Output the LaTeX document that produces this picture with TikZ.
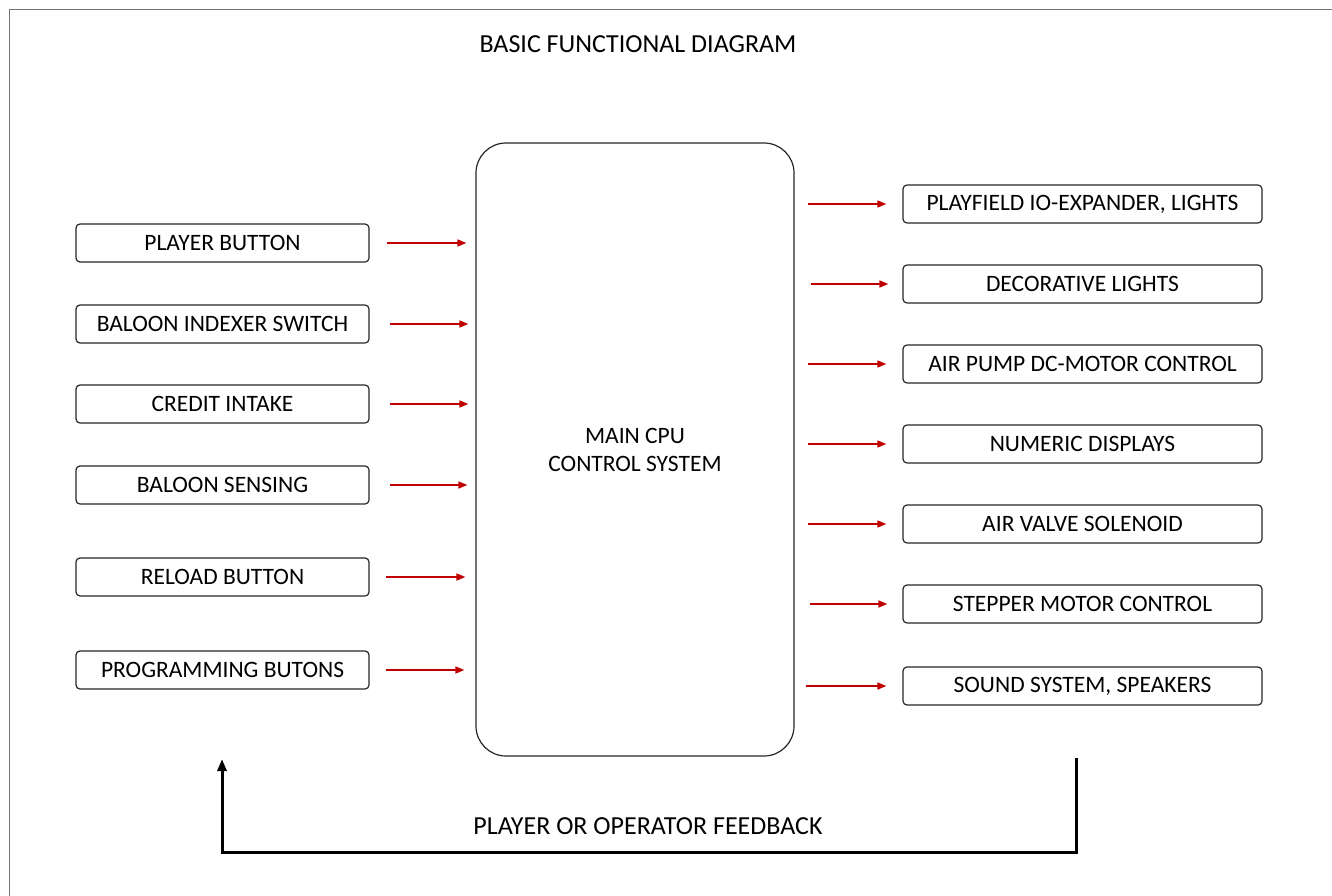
\documentclass[tikz,border=0pt]{standalone}
\usepackage{fontspec}
\setmainfont{Carlito}
\usetikzlibrary{arrows.meta, positioning}

\begin{document}
\begin{tikzpicture}[x=1pt, y=-1pt, font=\fontsize{23.5}{28}\selectfont,
    block/.style = {draw=black!85, line width=1.2pt, rounded corners=4pt,
      minimum height=38pt, inner sep=0pt},
    inbox/.style = {block, minimum width=293pt},
    outbox/.style = {block, minimum width=359pt},
    caption/.style = {font=\fontsize{26}{31}\selectfont},
    sig/.style = {draw={rgb,255:red,192;green,0;blue,0}, line width=1.6pt,
      -{Triangle[length=9pt, width=7pt]}},
    feedback/.style = {line width=3pt, -{Triangle[length=12pt, width=9pt]}}]
    \useasboundingbox (0,0) rectangle (1332,896);
    % frame (top and left only)
    \draw[black!55, line width=1.5pt] (1332,9.5) -- (9.5,9.5) -- (9.5,896);
    \node[caption] (title) at (638,44) {BASIC FUNCTIONAL DIAGRAM};
    % cpu
    \node[draw=black!85, line width=1.2pt, rounded corners=30pt, minimum width=318pt,
      minimum height=613pt, align=center] (cpu) at (635,449.5)
      {MAIN CPU\\CONTROL SYSTEM};
    % inputs
    \node[inbox] (player)   at (222.5,243) {PLAYER BUTTON};
    \node[inbox] (indexer)  at (222.5,324) {BALOON INDEXER SWITCH};
    \node[inbox] (credit)   at (222.5,404) {CREDIT INTAKE};
    \node[inbox] (sensing)  at (222.5,485) {BALOON SENSING};
    \node[inbox] (reload)   at (222.5,577) {RELOAD BUTTON};
    \node[inbox] (program)  at (222.5,670) {PROGRAMMING BUTONS};
    % outputs
    \node[outbox] (playfield) at (1082.5,204) {PLAYFIELD IO-EXPANDER, LIGHTS};
    \node[outbox] (deco)      at (1082.5,284) {DECORATIVE LIGHTS};
    \node[outbox] (pump)      at (1082.5,364) {AIR PUMP DC-MOTOR CONTROL};
    \node[outbox] (numeric)   at (1082.5,444) {NUMERIC DISPLAYS};
    \node[outbox] (valve)     at (1082.5,524) {AIR VALVE SOLENOID};
    \node[outbox] (stepper)   at (1082.5,604) {STEPPER MOTOR CONTROL};
    \node[outbox] (sound)     at (1082.5,686) {SOUND SYSTEM, SPEAKERS};
    % input arrows
    \draw[sig] ([xshift=17pt]player.east)  -- ([xshift=-9pt]player.east -| cpu.west);
    \draw[sig] ([xshift=20pt]indexer.east) -- ([xshift=-7pt]indexer.east -| cpu.west);
    \draw[sig] ([xshift=20pt]credit.east)  -- ([xshift=-7pt]credit.east -| cpu.west);
    \draw[sig] ([xshift=20pt]sensing.east) -- ([xshift=-8pt]sensing.east -| cpu.west);
    \draw[sig] ([xshift=16pt]reload.east)  -- ([xshift=-10pt]reload.east -| cpu.west);
    \draw[sig] ([xshift=16pt]program.east) -- ([xshift=-11pt]program.east -| cpu.west);
    % output arrows
    \draw[sig] ([xshift=13pt]playfield.west -| cpu.east) -- ([xshift=-16pt]playfield.west);
    \draw[sig] ([xshift=16pt]deco.west -| cpu.east)      -- ([xshift=-14pt]deco.west);
    \draw[sig] ([xshift=13pt]pump.west -| cpu.east)      -- ([xshift=-16pt]pump.west);
    \draw[sig] ([xshift=13pt]numeric.west -| cpu.east)   -- ([xshift=-16pt]numeric.west);
    \draw[sig] ([xshift=13pt]valve.west -| cpu.east)     -- ([xshift=-16pt]valve.west);
    \draw[sig] ([xshift=15pt]stepper.west -| cpu.east)   -- ([xshift=-15pt]stepper.west);
    \draw[sig] ([xshift=11pt]sound.west -| cpu.east)     -- ([xshift=-16pt]sound.west);
    % feedback loop
    \coordinate (fbstart) at (1076,758);
    \coordinate (fbend) at (222,759);
    \draw[feedback] (fbstart) -- (1076,852) -- (222,852) -- (fbend);
    \node[caption] (fblabel) at (648,826) {PLAYER OR OPERATOR FEEDBACK};
\end{tikzpicture}
\end{document}
